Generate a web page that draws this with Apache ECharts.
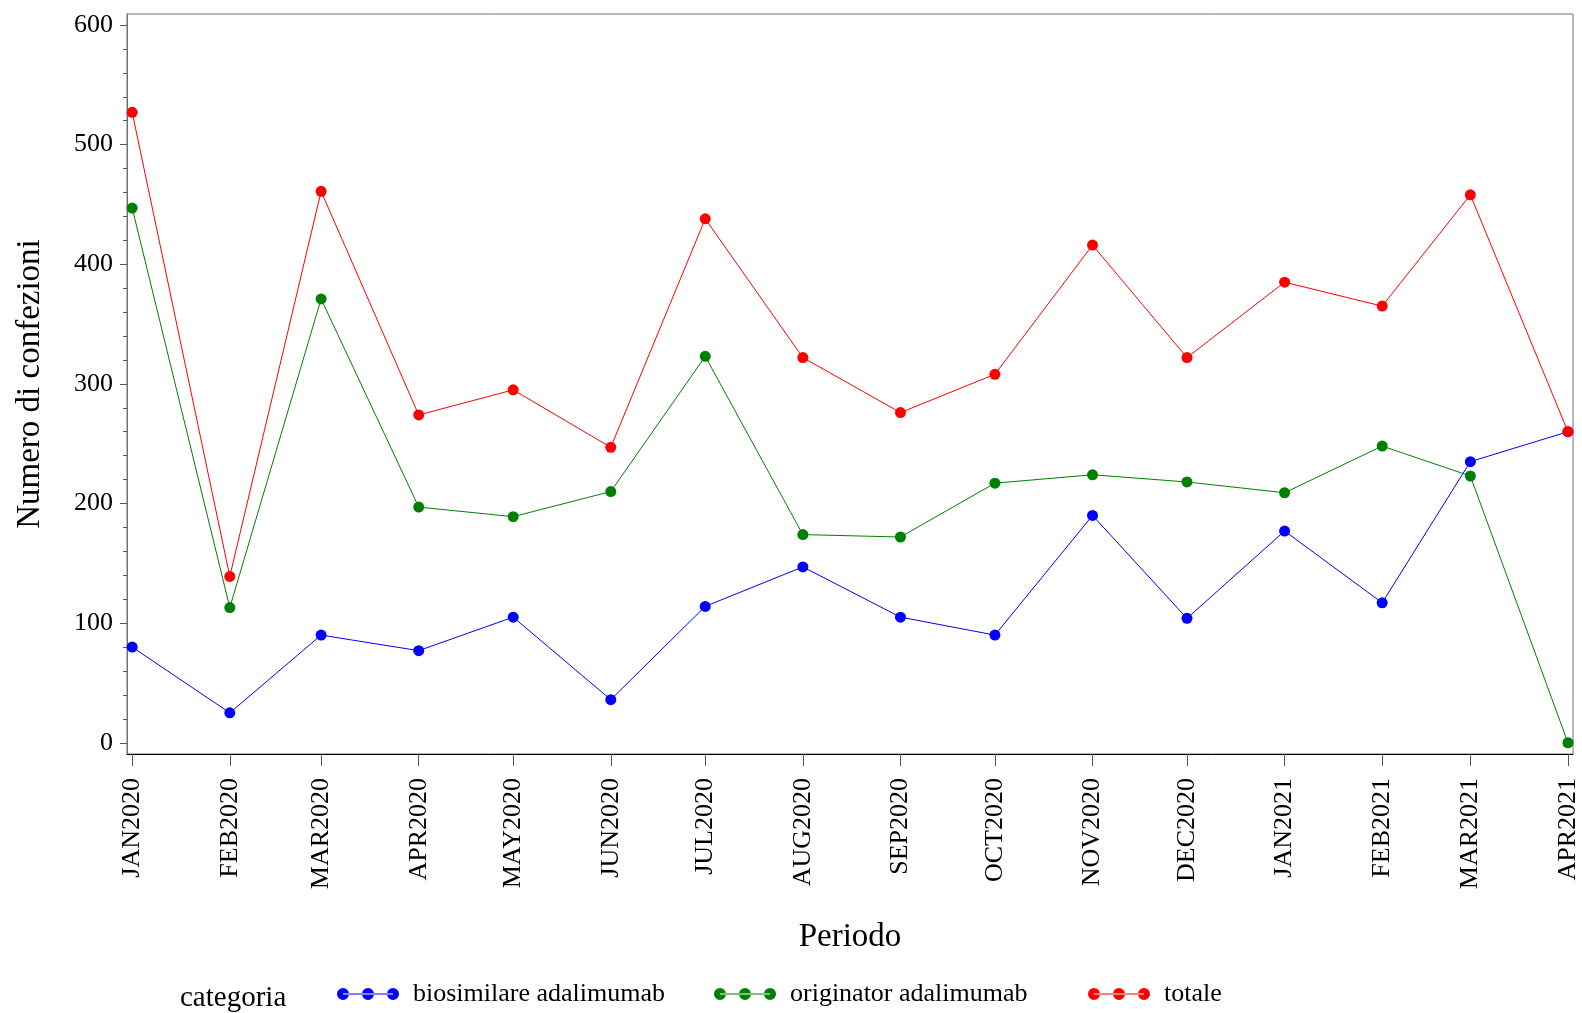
<!DOCTYPE html>
<html>
<head>
<meta charset="utf-8">
<script src="https://cdn.jsdelivr.net/npm/echarts@6/dist/echarts.min.js"></script>
<style>
html,body{margin:0;padding:0;background:#fff;}
#chart{width:1582px;height:1013px;}
</style>
</head>
<body>
<div id="chart"></div>
<script>
// ---- data ----
const months = ['2020-01-01','2020-02-01','2020-03-01','2020-04-01','2020-05-01','2020-06-01','2020-07-01','2020-08-01','2020-09-01','2020-10-01','2020-11-01','2020-12-01','2021-01-01','2021-02-01','2021-03-01','2021-04-01'];
const tickLabels = ['JAN2020','FEB2020','MAR2020','APR2020','MAY2020','JUN2020','JUL2020','AUG2020','SEP2020','OCT2020','NOV2020','DEC2020','JAN2021','FEB2021','MAR2021','APR2021'];
const biosimilare = [80, 25, 90, 77, 105, 36, 114, 147, 105, 90, 190, 104, 177, 117, 235, 260];
const originator = [447, 113, 371, 197, 189, 210, 323, 174, 172, 217, 224, 218, 209, 248, 223, 0];
const totale = [527, 139, 461, 274, 295, 247, 438, 322, 276, 308, 416, 322, 385, 365, 458, 260];
const yTicks = [0, 100, 200, 300, 400, 500, 600];
const seriesNames = ['biosimilare adalimumab', 'originator adalimumab', 'totale'];

// ---- helpers ----
const DAY = 864e5;
function toDays(s){ const p = s.split('-').map(Number); return Math.round(Date.UTC(p[0], p[1]-1, p[2]) / DAY); }
const monthDays = months.map(toDays);
const yMinor = [];
for (let v = 0; v <= 600; v += 20) { if (v % 100 !== 0) yMinor.push(v); }

const FONT = "'Liberation Serif','Times New Roman',serif";
const colors = ['#0000ff', '#008000', '#ff0000'];
const iconPath = 'path://M0,6A6,6,0,1,0,12,6A6,6,0,1,0,0,6Z M25,6A6,6,0,1,0,37,6A6,6,0,1,0,25,6Z M50,6A6,6,0,1,0,62,6A6,6,0,1,0,50,6Z M6,5.4L56,5.4L56,6.6L6,6.6Z';

function mkSeries(name, vals, color){
  return {
    type: 'line', name: name,
    data: monthDays.map((t, i) => [t, vals[i]]),
    symbol: 'circle', symbolSize: 11,
    itemStyle: { color: color },
    lineStyle: { color: color, width: 1 },
    emphasis: { disabled: true },
    animation: false
  };
}

function mkLegend(name, left){
  return {
    data: [name], left: left, top: 976, padding: 0,
    icon: iconPath, itemWidth: 62, itemHeight: 12,
    itemStyle: { borderWidth: 0 },
    selectedMode: false,
    textStyle: { fontFamily: FONT, fontSize: 26, color: '#000', lineHeight: 30, padding: [6, 0, 0, 9] }
  };
}

const chart = echarts.init(document.getElementById('chart'));
chart.setOption({
  backgroundColor: '#fff',
  animation: false,
  grid: { left: 127, top: 14, right: 9, bottom: 259, show: true, borderColor: '#707070', borderWidth: 1, containLabel: false, outerBoundsMode: 'none' },
  xAxis: {
    type: 'value',
    min: monthDays[0] - 1.65,
    max: monthDays[monthDays.length - 1] + 1.6,
    name: 'Periodo', nameLocation: 'middle', nameGap: 167,
    nameTextStyle: { fontFamily: FONT, fontSize: 33, color: '#000' },
    axisLine: { show: true, onZero: false, lineStyle: { color: '#000', width: 1 } },
    axisTick: { show: true, length: 12, lineStyle: { color: '#555' }, customValues: monthDays },
    axisLabel: {
      show: true, rotate: 90, margin: 24, customValues: monthDays,
      fontFamily: FONT, fontSize: 26, color: '#000',
      formatter: function (v) {
        const i = monthDays.indexOf(v);
        return i >= 0 ? tickLabels[i] : '';
      }
    },
    splitLine: { show: false }
  },
  yAxis: [{
    type: 'value', min: -9.4, max: 609.2,
    name: 'Numero di confezioni', nameLocation: 'middle', nameGap: 80, nameRotate: 90,
    nameTextStyle: { fontFamily: FONT, fontSize: 33, color: '#000' },
    axisLine: { show: true, onZero: false, lineStyle: { color: '#707070' } },
    axisTick: { show: true, length: 7, lineStyle: { color: '#555' }, customValues: yTicks },
    axisLabel: { show: true, margin: 14, customValues: yTicks, fontFamily: FONT, fontSize: 26, color: '#000' },
    splitLine: { show: false }
  }, {
    type: 'value', min: -9.4, max: 609.2, position: 'left',
    axisLine: { show: false, onZero: false },
    axisTick: { show: true, length: 4, lineStyle: { color: '#555' }, customValues: yMinor },
    axisLabel: { show: false },
    splitLine: { show: false }
  }],
  legend: [mkLegend(seriesNames[0], 337), mkLegend(seriesNames[1], 714), mkLegend(seriesNames[2], 1088)],
  graphic: [{
    type: 'text', left: 180, top: 984,
    style: { text: 'categoria', fontFamily: FONT, fontSize: 29, fill: '#000' }
  }],
  series: [
    mkSeries(seriesNames[0], biosimilare, colors[0]),
    mkSeries(seriesNames[1], originator, colors[1]),
    mkSeries(seriesNames[2], totale, colors[2])
  ]
});
</script>
</body>
</html>
